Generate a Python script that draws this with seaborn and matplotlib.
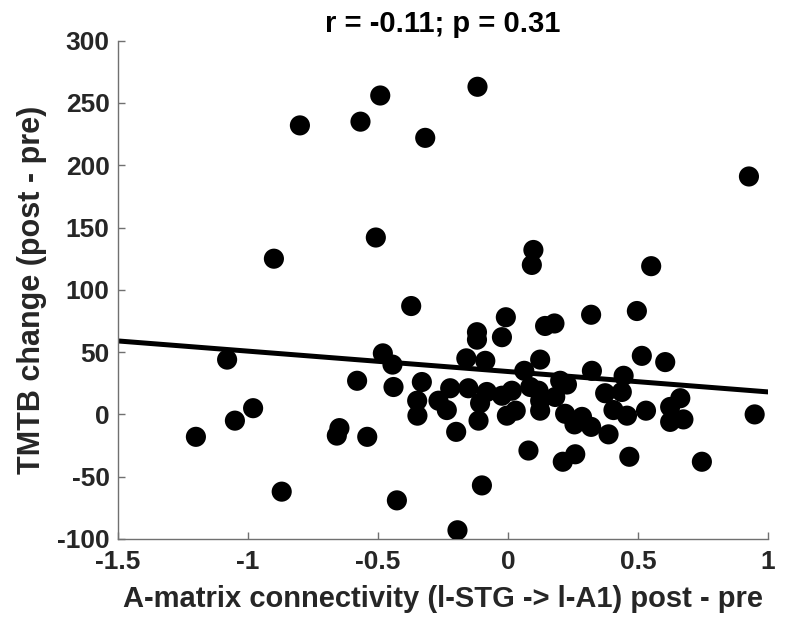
import matplotlib
matplotlib.use("Agg")
import matplotlib.pyplot as plt
import seaborn as sns
import pandas as pd
import numpy as np

# connectivity change (x) and TMTB change (y)
conn_change = [
    -1.20, -1.08, -1.05, -0.98, -0.90, -0.87, -0.80, -0.658, -0.648, -0.58,
    -0.567, -0.541, -0.508, -0.491, -0.481, -0.444, -0.440, -0.427, -0.372, -0.349,
    -0.348, -0.331, -0.318, -0.267, -0.235, -0.222, -0.199, -0.194, -0.160, -0.152,
    -0.119, -0.119, -0.117, -0.113, -0.107, -0.100, -0.087, -0.081, -0.023, -0.023,
    -0.008, -0.004, 0.015, 0.030, 0.063, 0.079, 0.086, 0.092, 0.098, 0.118,
    0.124, 0.124, 0.124, 0.143, 0.179, 0.182, 0.201, 0.211, 0.220, 0.227,
    0.256, 0.259, 0.285, 0.320, 0.320, 0.323, 0.374, 0.387, 0.406, 0.438,
    0.445, 0.458, 0.467, 0.496, 0.515, 0.531, 0.551, 0.605, 0.624, 0.624,
    0.663, 0.675, 0.746, 0.927, 0.949,
]
tmtb_change = [
    -18, 44, -5, 5, 125, -62, 232, -17, -11, 27,
    235, -18, 142, 256, 49, 40, 22, -69, 87, 11,
    -1, 26, 222, 11, 3.5, 21, -14, -93, 45, 21,
    66, 60, 263, -5, 9, -57, 43, 18, 62, 15,
    78, -1, 19, 3, 35, -29, 22, 120, 132, 19,
    44, 11, 3, 71, 73, 14, 27, -38, 0.5, 24,
    -8, -32, -2, 80, -10, 35, 17, -16, 3.5, 18,
    31, -1, -34, 83, 47, 3, 119, 42, 6, -6,
    13, -4, -38, 191, 0,
]

title_text = "r = -0.11; p = 0.31"
x_label = "A-matrix connectivity (l-STG -> l-A1) post - pre"
y_label = "TMTB change (post - pre)"
x_ticks = [-1.5, -1, -0.5, 0, 0.5, 1]
x_tick_labels = ["-1.5", "-1", "-0.5", "0", "0.5", "1"]
y_ticks = [-100, -50, 0, 50, 100, 150, 200, 250, 300]
y_tick_labels = ["-100", "-50", "0", "50", "100", "150", "200", "250", "300"]

df = pd.DataFrame({"x": conn_change, "y": tmtb_change})

sns.set_style("white")
plt.rcParams["font.family"] = ["Liberation Sans", "DejaVu Sans"]
plt.rcParams["font.weight"] = "bold"
plt.rcParams["axes.unicode_minus"] = False

fig = plt.figure(figsize=(7.86, 6.26), dpi=100)
ax = fig.add_axes([0.150, 0.139, 0.827, 0.796])
ax.set_xlim(-1.5, 1)
ax.set_ylim(-100, 300)

sns.regplot(data=df, x="x", y="y", ax=ax, ci=None, truncate=False,
            scatter_kws=dict(s=210, color="black", edgecolor="none", alpha=1, zorder=3),
            line_kws=dict(color="black", lw=3.6, zorder=2))

ax.set_xlim(-1.5, 1)
ax.set_ylim(-100, 300)
ax.set_xticks(x_ticks)
ax.set_xticklabels(x_tick_labels)
ax.set_yticks(y_ticks)
ax.set_yticklabels(y_tick_labels)
ax.tick_params(bottom=True, left=True, direction="in", length=5, width=1,
               color="#707070", labelsize=19, labelcolor="#262626", pad=6)
ax.tick_params(axis="x", pad=8)
for lab in ax.get_xticklabels() + ax.get_yticklabels():
    lab.set_fontweight("bold")
for side in ["top", "right"]:
    ax.spines[side].set_visible(False)
for side in ["left", "bottom"]:
    ax.spines[side].set_color("#707070")
    ax.spines[side].set_linewidth(1)

ax.set_xlabel(x_label, fontsize=21, fontweight="bold", color="#262626", labelpad=8)
ax.set_ylabel(y_label, fontsize=22, fontweight="bold", color="#262626", labelpad=7)
ax.set_title(title_text, fontsize=21, fontweight="bold", color="black", pad=6)

fig.savefig("out.png", dpi=100, facecolor="white")
